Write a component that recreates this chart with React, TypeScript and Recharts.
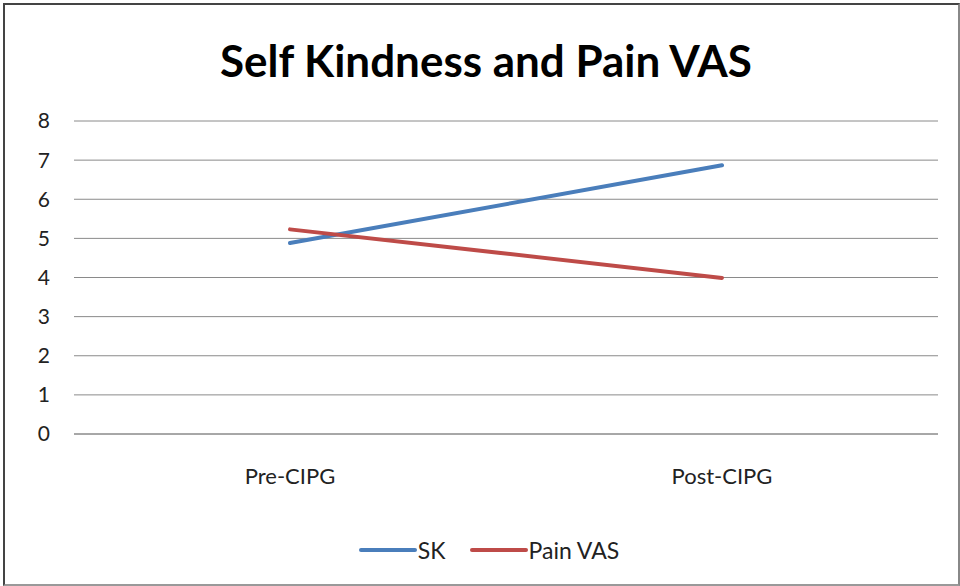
import React from "react";
import { LineChart, Line, XAxis, YAxis, CartesianGrid, Legend } from "recharts";

const categories = ["Pre-CIPG", "Post-CIPG"];
const skValues = [4.88, 6.87];
const painValues = [5.23, 3.99];
const yTicks = [0, 1, 2, 3, 4, 5, 6, 7, 8];
const seriesOrder = ["SK", "Pain VAS"];

const data = categories.map((c, i) => ({ name: c, SK: skValues[i], "Pain VAS": painValues[i] }));

const FONT = "Lato, 'Noto Sans', sans-serif";

const LegendContent = (props: any) => {
  const payload = [...(props.payload || [])].sort(
    (a: any, b: any) => seriesOrder.indexOf(a.value) - seriesOrder.indexOf(b.value)
  );
  return (
    <div style={{ display: "flex", justifyContent: "center", alignItems: "center", fontFamily: FONT, fontSize: 23, color: "#222", paddingLeft: 18 }}>
      {payload.map((p: any, i: number) => (
        <div key={i} style={{ display: "flex", alignItems: "center", marginRight: i === 0 ? 24 : 0 }}>
          <svg width={58} height={10} style={{ display: "block" }}>
            <line x1={2} y1={5} x2={56} y2={5} stroke={p.color} strokeWidth={4} strokeLinecap="round" />
          </svg>
          <span style={{ marginLeft: 1 }}>{p.value}</span>
        </div>
      ))}
    </div>
  );
};

export default function App() {
  return (
    <div style={{ position: "absolute", left: 0, top: 0, width: 960, height: 586, background: "#fff" }}>
      <div style={{ position: "absolute", left: 3, top: 3, width: 953, height: 579, borderTop: "2px solid #444", borderLeft: "2px solid #444", borderRight: "2px solid #888", borderBottom: "2px solid #999" }} />
      <svg width={960} height={100} style={{ position: "absolute", left: 0, top: 0 }}>
        <text x={486} y={77} textAnchor="middle" fontFamily={FONT} fontWeight={700} fontSize={44} fill="#000" textLength={532} lengthAdjust="spacingAndGlyphs">
          Self Kindness and Pain VAS
        </text>
      </svg>
      <div style={{ position: "absolute", left: 0, top: 0 }}>
        <LineChart width={960} height={586} data={data} margin={{ top: 121, right: 22, left: 0, bottom: 20 }}>
          <CartesianGrid vertical={false} stroke="#8a8a8a" strokeWidth={1} />
          <XAxis dataKey="name" axisLine={{ stroke: "#8a8a8a" }} tickLine={false} tickSize={0} tickMargin={34} height={102}
            padding={{ left: 216, right: 216 }}
            tick={{ fontFamily: FONT, fontSize: 22, fill: "#222" }} />
          <YAxis domain={[0, 8]} ticks={yTicks} axisLine={false} tickLine={false} tickSize={22} width={74}
            tick={{ fontFamily: FONT, fontSize: 21, fill: "#222" }} />
          <Legend verticalAlign="bottom" height={30} content={<LegendContent />} wrapperStyle={{ left: 0, width: 960 }} />
          <Line dataKey="SK" stroke="#4A7EBB" strokeWidth={4} dot={false} isAnimationActive={false} strokeLinecap="round" />
          <Line dataKey="Pain VAS" stroke="#BE4B48" strokeWidth={4} dot={false} isAnimationActive={false} strokeLinecap="round" />
        </LineChart>
      </div>
    </div>
  );
}
